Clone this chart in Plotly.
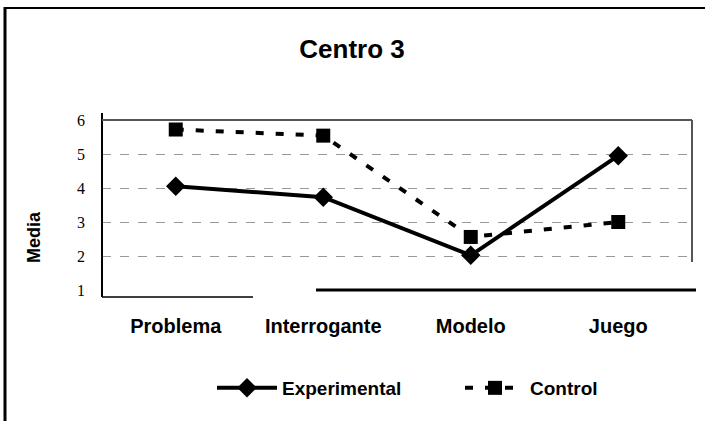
import plotly.graph_objects as go

categories = ["Problema", "Interrogante", "Modelo", "Juego"]
experimental = [4.05, 3.73, 2.02, 4.95]
control = [5.72, 5.54, 2.56, 3.0]
y_ticks = [1, 2, 3, 4, 5, 6]

W, H = 705, 421
# plot area in pixels
L, R, T, B = 102, 692, 120, 290


def px(x):
    """pixel x -> paper x"""
    return (x - L) / (R - L)


def py(y):
    """pixel y -> paper y"""
    return (B - y) / (B - T)


SANS = "Liberation Sans, Arial, sans-serif"

fig = go.Figure()
fig.add_trace(go.Scatter(
    x=categories, y=experimental, name="<b>Experimental</b>", mode="lines+markers",
    line=dict(color="black", width=4),
    marker=dict(symbol="diamond", size=15, color="black"),
    legend="legend",
))
fig.add_trace(go.Scatter(
    x=categories, y=control, name="<b>Control</b>", mode="lines+markers",
    line=dict(color="black", width=4, dash="8px,12px"),
    marker=dict(symbol="square", size=14, color="black"),
    legend="legend2",
))

shapes = [
    # outer frame (left & top)
    dict(type="line", xref="paper", yref="paper", x0=px(5), x1=px(5), y0=py(7), y1=py(430),
         line=dict(color="black", width=3)),
    dict(type="line", xref="paper", yref="paper", x0=px(4), x1=px(715), y0=py(8), y1=py(8),
         line=dict(color="black", width=2)),
    # plot frame pieces
    dict(type="line", xref="paper", yref="paper", x0=0, x1=0, y0=py(113), y1=py(297),
         line=dict(color="black", width=2)),
    dict(type="line", xref="paper", yref="paper", x0=0, x1=1, y0=1, y1=1,
         line=dict(color="#555555", width=2)),
    dict(type="line", xref="paper", yref="paper", x0=1, x1=1, y0=1, y1=py(262),
         line=dict(color="#555555", width=2)),
    dict(type="line", xref="paper", yref="paper", x0=0, x1=px(253), y0=py(297), y1=py(297),
         line=dict(color="black", width=1.5)),
    dict(type="line", xref="paper", yref="paper", x0=px(316), x1=px(696), y0=py(290), y1=py(290),
         line=dict(color="black", width=3)),
]

legend_common = dict(orientation="h", xanchor="left", yanchor="middle", itemwidth=60,
                     font=dict(family=SANS, size=19, color="black"), bgcolor="rgba(0,0,0,0)")

fig.update_layout(
    width=W, height=H,
    margin=dict(l=L, r=W - R, t=T, b=H - B, pad=0),
    paper_bgcolor="white", plot_bgcolor="white",
    title=dict(text="<b>Centro 3</b>", x=352 / W, xref="container",
               y=1 - 49 / H, yref="container",
               xanchor="center", yanchor="middle", font=dict(family=SANS, size=26, color="black")),
    xaxis=dict(range=[-0.5, 3.5], showgrid=False, showline=False, zeroline=False,
               tickfont=dict(family=SANS, size=20, color="black"), ticklabelstandoff=22,
               tickprefix="<b>", ticksuffix="</b>"),
    yaxis=dict(range=[1, 6], tickvals=y_ticks, showline=False, zeroline=False,
               showgrid=True, gridcolor="#999999", griddash="dash", gridwidth=1,
               tickfont=dict(family="Liberation Serif, Times New Roman, serif", size=16, color="black"),
               ticklabelstandoff=16),
    showlegend=True,
    legend=dict(x=px(212), y=py(388), **legend_common),
    legend2=dict(x=px(460), y=py(388), **legend_common),
    shapes=shapes,
    annotations=[dict(text="<b>Media</b>", xref="paper", yref="paper", x=px(34), y=py(237),
                      xanchor="center", yanchor="middle", textangle=-90, showarrow=False,
                      font=dict(family=SANS, size=18, color="black"))],
)
fig.write_html("out.html", config={"displayModeBar": False},
               post_script="document.body.style.margin='0px';")
